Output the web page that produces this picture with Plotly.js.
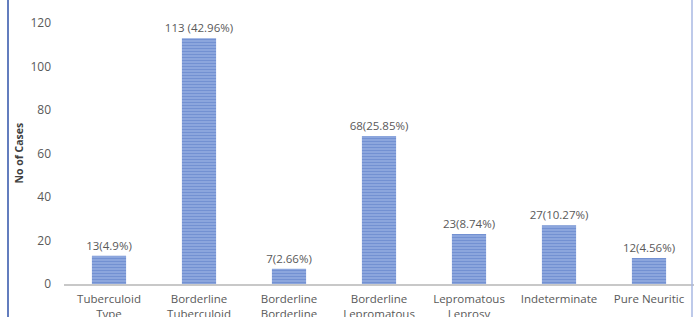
<!DOCTYPE html>
<html>
<head>
<meta charset="utf-8">
<script src="https://cdn.plot.ly/plotly-3.0.1.min.js"></script>
<style>html,body{margin:0;padding:0;background:#fff;}#chart{width:697px;height:317px;}</style>
</head>
<body>
<div id="chart"></div>
<script>
const categories = ["Tuberculoid<br>Type", "Borderline<br>Tuberculoid", "Borderline<br>Borderline", "Borderline<br>Lepromatous", "Lepromatous<br>Leprosy", "Indeterminate", "Pure Neuritic"];
const cases = [13, 113, 7, 68, 23, 27, 12];
const labels = ["13(4.9%)", "113 (42.96%)", "7(2.66%)", "68(25.85%)", "23(8.74%)", "27(10.27%)", "12(4.56%)"];
const yTicks = [0, 20, 40, 60, 80, 100, 120];
const yTitle = "No of Cases";

const W = 697, L = 64, R = 3;
const pw = W - L - R;
const px = v => (v - L) / pw;
const FONT = 'Open Sans, Liberation Sans, Arial, sans-serif';

const trace = {
  type: 'bar',
  x: categories,
  y: cases,
  text: labels,
  textposition: 'outside',
  constraintext: 'none',
  cliponaxis: false,
  textfont: {family: FONT, size: 11.5, color: '#595959'},
  width: 0.38,
  marker: {
    color: '#8aa5dc',
    line: {width: 0},
    pattern: {shape: '-', fgcolor: '#4a70c2', bgcolor: '#9cb3e3', size: 3, solidity: 0.6, fillmode: 'overlay'}
  },
  hoverinfo: 'none'
};

const layout = {
  width: 697, height: 317,
  margin: {l: L, r: R, t: 23, b: 33},
  paper_bgcolor: '#ffffff', plot_bgcolor: '#ffffff',
  showlegend: false,
  font: {family: FONT, size: 12, color: '#595959'},
  xaxis: {
    showline: true, linecolor: '#c8c8c8', linewidth: 1.5,
    ticks: '', showgrid: false, zeroline: false,
    ticklabelstandoff: 4,
    tickfont: {family: FONT, size: 11.5, color: '#595959'},
    range: [-0.5, 6.5]
  },
  yaxis: {
    range: [0, 120], tickvals: yTicks, showgrid: false, zeroline: false,
    showline: false, ticks: '', ticklabelstandoff: 12,
    tickfont: {family: FONT, size: 12, color: '#595959'}
  },
  annotations: [
    {xref: 'paper', yref: 'paper', x: px(18), y: 0.5, text: '<b>' + yTitle + '</b>', textangle: -90,
     showarrow: false, font: {family: FONT, size: 10.5, color: '#404040'}, xanchor: 'center', yanchor: 'middle'}
  ],
  shapes: [
    {type: 'line', xref: 'paper', yref: 'paper', x0: px(8), x1: px(8), y0: -1, y1: 2, line: {color: '#2f52a8', width: 1.5}},
    {type: 'line', xref: 'paper', yref: 'paper', x0: px(692), x1: px(692), y0: -1, y1: 2, line: {color: '#a8b9e3', width: 1.5}}
  ]
};

Plotly.newPlot('chart', [trace], layout, {displayModeBar: false, staticPlot: true});
</script>
</body>
</html>
